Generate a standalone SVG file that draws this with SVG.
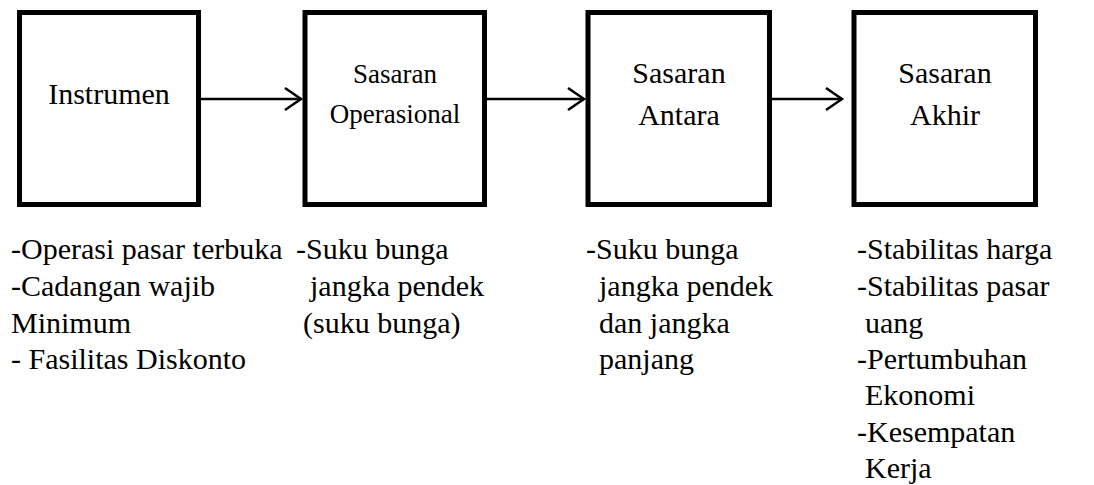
<svg xmlns="http://www.w3.org/2000/svg" width="1094" height="485" viewBox="0 0 1094 485">
  <style>
    .box { fill: #ffffff; stroke: #000000; stroke-width: 5; }
    .link { fill: none; stroke: #000000; stroke-width: 2.5; }
    .head { fill: none; stroke: #000000; stroke-width: 2.5; stroke-linejoin: miter; }
    .serif { font-family: 'Times New Roman', 'Liberation Serif', 'DejaVu Serif', serif; }
    .title { font-size: 30px; text-anchor: middle; }
    .title-sm { font-size: 27px; text-anchor: middle; }
    .note { font-size: 30px; }
  </style>
  <rect width="1094" height="485" fill="#ffffff"/>

  <!-- connectors -->
  <g id="connectors">
    <line class="link" x1="201" y1="99" x2="301" y2="99"/>
    <polyline class="head" points="285,88 301,99 285,110"/>
    <line class="link" x1="487" y1="99" x2="584" y2="99"/>
    <polyline class="head" points="568,88 584,99 568,110"/>
    <line class="link" x1="772" y1="99" x2="842" y2="99"/>
    <polyline class="head" points="826,88 842,99 826,110"/>
  </g>

  <g class="serif" fill="#000000">
    <!-- stage: Instrumen -->
    <g id="instrumen">
      <rect class="box" x="19.5" y="12.5" width="179" height="192"/>
      <text class="title" x="109" y="104">Instrumen</text>
      <text class="note" x="11" y="259">-Operasi pasar terbuka</text>
      <text class="note" x="11" y="296">-Cadangan wajib</text>
      <text class="note" x="11" y="333">Minimum</text>
      <text class="note" x="11" y="369">- Fasilitas Diskonto</text>
    </g>

    <!-- stage: Sasaran Operasional -->
    <g id="sasaran-operasional">
      <rect class="box" x="305" y="12.5" width="179.5" height="192"/>
      <text class="title-sm" x="395" y="83">Sasaran</text>
      <text class="title-sm" x="395" y="123">Operasional</text>
      <text class="note" x="296" y="259">-Suku bunga</text>
      <text class="note" x="310" y="296">jangka pendek</text>
      <text class="note" x="303" y="333">(suku bunga)</text>
    </g>

    <!-- stage: Sasaran Antara -->
    <g id="sasaran-antara">
      <rect class="box" x="588" y="12.5" width="181.5" height="192"/>
      <text class="title" x="679" y="83">Sasaran</text>
      <text class="title" x="679" y="125">Antara</text>
      <text class="note" x="586" y="259">-Suku bunga</text>
      <text class="note" x="599" y="296">jangka pendek</text>
      <text class="note" x="599" y="333">dan jangka</text>
      <text class="note" x="599" y="369">panjang</text>
    </g>

    <!-- stage: Sasaran Akhir -->
    <g id="sasaran-akhir">
      <rect class="box" x="854" y="12.5" width="181.5" height="192"/>
      <text class="title" x="945" y="83">Sasaran</text>
      <text class="title" x="945" y="125">Akhir</text>
      <text class="note" x="857" y="259">-Stabilitas harga</text>
      <text class="note" x="857" y="296">-Stabilitas pasar</text>
      <text class="note" x="865" y="333">uang</text>
      <text class="note" x="857" y="369">-Pertumbuhan</text>
      <text class="note" x="865" y="405">Ekonomi</text>
      <text class="note" x="857" y="442">-Kesempatan</text>
      <text class="note" x="865" y="478">Kerja</text>
    </g>
  </g>
</svg>
